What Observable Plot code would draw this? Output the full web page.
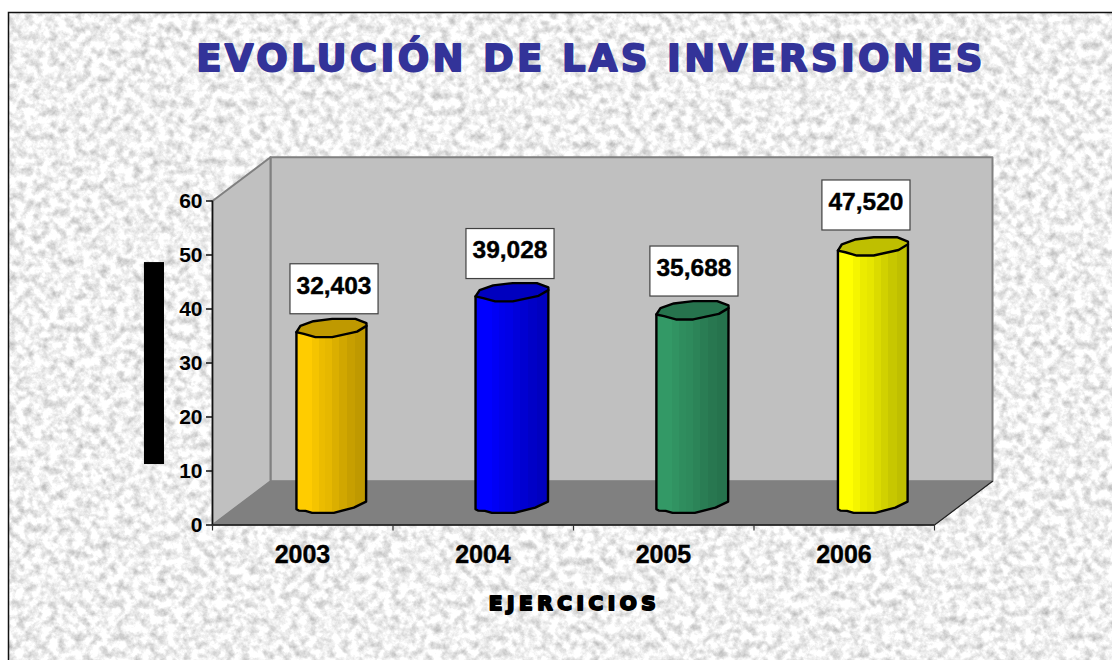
<!DOCTYPE html>
<html lang="es">
<head>
<meta charset="utf-8">
<script src="https://cdn.jsdelivr.net/npm/d3@7"></script>
<script src="https://cdn.jsdelivr.net/npm/@observablehq/plot@0.6"></script>
<style>
html,body{margin:0;padding:0;background:#fff;overflow:hidden}
svg{display:block}
</style>
</head>
<body>
<div id="chart"></div>
<script>
const years = ["2003", "2004", "2005", "2006"];
const values = [32.403, 39.028, 35.688, 47.520];
const valueLabels = ["32,403", "39,028", "35,688", "47,520"];
const barColors = ["#ffcc00", "#0000ff", "#339966", "#ffff00"];
const yTicks = [0, 10, 20, 30, 40, 50, 60];
const xBoundaries = [0, 1, 2, 3, 4];
const chartTitle = "EVOLUCIÓN DE LAS INVERSIONES";
const xTitle = "EJERCICIOS";

const font = "Liberation Sans, Arial, sans-serif";
const heavyFont = "DejaVu Sans, Liberation Sans, sans-serif";
// 3D depth, in data units
const depthX = 0.3213, depthY = 8.1, yMax = 60, xMax = 4;
const baseY = 4.1, centerX = 0.659;
const widthScale = [1, 1.04, 1.03, 1];
const labelDx = [0.017, -0.008, 0.011, -0.036];
const labelLift = [11.25, 11.15, 11.25, 11.65];
const boxHalfW = 0.244, boxHalfH = 4.63;

// wobbly cylinder outlines: [category offset, value offset]
const topOutline = [[-.194,-.8],[-.172,.37],[-.1,1.24],[.004,1.67],[.133,1.67],[.194,.87],[.194,.37],[.142,-.69],[.004,-1.72],[-.089,-1.72],[-.153,-1.11]];
const bottomOutline = [[-.194,-1.17],[-.181,-1.43],[-.144,-1.48],[-.107,-1.85],[.013,-1.85],[.124,-.87],[.192,.24]];

const bands = [[0,.22,1],[.22,.32,.96],[.32,.41,.92],[.41,.51,.9],[.51,.61,.86],[.61,.72,.82],[.72,.84,.78],[.84,1,.75]];
const shade = (c, k) => { const r = d3.rgb(c); return d3.rgb(r.r*k, r.g*k, r.b*k).formatHex(); };

const NS = "http://www.w3.org/2000/svg";
const el = (n, a, parent) => { const e = document.createElementNS(NS, n); for (const k in a) e.setAttribute(k, a[k]); if (parent) parent.appendChild(e); return e; };

function backdrop(index, scales, vals, dims) {
  const g = el("g", {});
  const defs = el("defs", {}, g);
  const f = el("filter", {id:"marble", x:"0", y:"0", width:"100%", height:"100%", "color-interpolation-filters":"sRGB"}, defs);
  el("feTurbulence", {type:"fractalNoise", baseFrequency:"0.12", numOctaves:"4", seed:"7"}, f);
  el("feColorMatrix", {type:"matrix", values:"0.5 0 0 0 0.69  0.5 0 0 0 0.69  0.5 0 0 0 0.69  0 0 0 0 1"}, f);
  barColors.forEach((c, i) => {
    const lg = el("linearGradient", {id:"band"+i, x1:"0", x2:"1", y1:"0", y2:"0"}, defs);
    for (const [a, b, k] of bands) {
      el("stop", {offset:a, "stop-color":shade(c,k)}, lg);
      el("stop", {offset:b, "stop-color":shade(c,k)}, lg);
    }
  });
  el("rect", {x:8.5, y:12.5, width:dims.width+10, height:dims.height+10, filter:"url(#marble)"}, g);
  el("rect", {x:8.5, y:12.5, width:dims.width+10, height:dims.height+10, fill:"none", stroke:"#111", "stroke-width":1.5}, g);
  return g;
}

const spaced = px => (i, s, v, d, c, next) => {
  const g = next(i, s, v, d, c);
  g.style.letterSpacing = px + "px";
  return g;
};

const poly = (pts, opts) => Plot.line([...pts, pts[0]], {x:d=>d[0], y:d=>d[1], ...opts});

const wallBack = [[depthX,depthY],[xMax+depthX,depthY],[xMax+depthX,yMax+depthY],[depthX,yMax+depthY]];
const wallSide = [[0,0],[depthX,depthY],[depthX,yMax+depthY],[0,yMax]];
const floor = [[0,0],[xMax,0],[xMax+depthX,depthY],[depthX,depthY]];

const bars = values.flatMap((v, i) => {
  const cx = i + centerX, s = widthScale[i], top = baseY + v;
  const topPts = topOutline.map(([a,b]) => [cx+a*s, top+b]);
  const body = [
    [cx+topOutline[0][0]*s, top+topOutline[0][1]],
    ...bottomOutline.map(([a,b]) => [cx+a*s, baseY+b]),
    [cx+topOutline[6][0]*s, top+topOutline[6][1]]
  ];
  return [
    poly(body, {fill:`url(#band${i})`, stroke:"#000", strokeWidth:2.4, strokeLinejoin:"round"}),
    poly(topPts, {fill:shade(barColors[i], .75), stroke:"#000", strokeWidth:2.4, strokeLinejoin:"round"})
  ];
});

const labelData = values.map((v, i) => ({
  x: i + centerX + labelDx[i], y: v + labelLift[i], label: valueLabels[i]
}));

const plot = Plot.plot({
  width: 1112, height: 660,
  marginLeft: 212, marginRight: 178, marginTop: 200.5, marginBottom: 135.5,
  style: {fontFamily: font, background: "transparent", overflow: "visible"},
  x: {domain: [0, xMax]},
  y: {domain: [0, yMax]},
  marks: [
    backdrop,
    poly(wallBack, {fill:"#c0c0c0", stroke:"#808080", strokeWidth:2}),
    poly(wallSide, {fill:"#c0c0c0", stroke:"#808080", strokeWidth:2}),
    poly(floor, {fill:"#808080", stroke:"#808080", strokeWidth:1}),
    Plot.line([[xMax,0],[xMax+depthX,depthY]], {x:d=>d[0], y:d=>d[1], stroke:"#222", strokeWidth:1.2}),
    ...bars,
    Plot.rect(labelData, {x1:d=>d.x-boxHalfW, x2:d=>d.x+boxHalfW, y1:d=>d.y-boxHalfH, y2:d=>d.y+boxHalfH, fill:"#fff", stroke:"#404040", strokeWidth:1.2}),
    Plot.text(labelData, {x:"x", y:"y", text:"label", dy:-3.5, dx:-0.5, fontSize:24.5, fontWeight:"bold", fill:"#000", stroke:"#000", strokeWidth:0.4}),
    Plot.ruleX([0], {y1:0, y2:yMax, stroke:"#111", strokeWidth:1.5}),
    Plot.ruleY([0], {x1:0, x2:xMax, stroke:"#111", strokeWidth:1.5}),
    Plot.axisY({ticks:yTicks, tickSize:6, tickPadding:4, fontSize:21, fontWeight:"bold", label:null, stroke:"#111", strokeWidth:1.5, fill:"#000"}),
    Plot.axisX({ticks:xBoundaries, tickSize:6, tickFormat:()=>"", label:null, stroke:"#333", strokeWidth:1.2}),
    Plot.text(years, {x:(d,i)=>i+0.5, y:()=>0, text:d=>d, dy:29.5, dx:-0.3, fontSize:25, fontWeight:"bold", fill:"#000", stroke:"#000", strokeWidth:0.4}),
    Plot.rect([0], {x1:()=>-0.377, x2:()=>-0.266, y1:()=>11.2, y2:()=>48.6, fill:"#000"}),
    Plot.text([chartTitle], {x:()=>2.097, y:()=>86.3, text:d=>d, fontFamily:heavyFont, fontSize:37, fontWeight:"bold", fill:"#333399", stroke:"#333399", strokeWidth:1.8, render:spaced(3.35)}),
    Plot.text([xTitle], {x:()=>2, y:()=>0, text:d=>d, dy:78.5, dx:1, fontFamily:heavyFont, fontSize:20, fontWeight:"bold", fill:"#000", stroke:"#000", strokeWidth:2, render:spaced(4.55)})
  ]
});
document.getElementById("chart").appendChild(plot);
</script>
</body>
</html>
